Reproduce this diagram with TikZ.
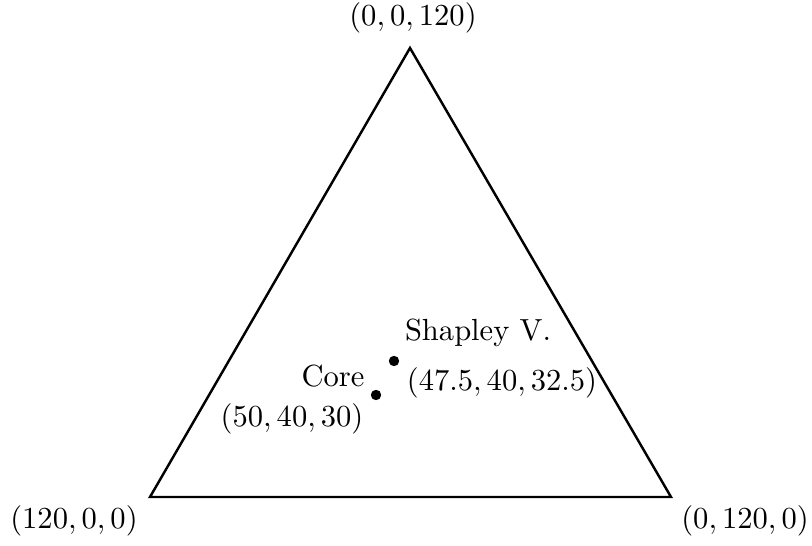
\documentclass[tikz,border=0pt]{standalone}
\usepackage{tikz}
\usetikzlibrary{positioning}

\begin{document}
\begin{tikzpicture}[
    x=0.0115cm, y=-0.0115cm,
    edge/.style={thick},
    dot/.style={circle, fill=black, inner sep=0pt, minimum size=3.4pt},
    lbl/.style={font=\normalsize, inner sep=1pt}
]
\useasboundingbox (0,0) rectangle (812,546);

% vertices of the simplex
\coordinate (p1) at (150,497);
\coordinate (p2) at (671,497);
\coordinate (p3) at (410,48);

\draw[edge] (p1) -- (p2) -- (p3) -- cycle;

\node[lbl] (l1) at (74,521) {$(120,0,0)$};
\node[lbl] (l2) at (745,521) {$(0,120,0)$};
\node[lbl] (l3) at (413,18) {$(0,0,120)$};

% core and Shapley value
\node[dot] (core) at (376,395) {};
\node[dot] (shap) at (394,361) {};

\node[lbl] (corename) at (333,376) {Core};
\node[lbl] (coreval) at (292,419) {$(50,40,30)$};
\node[lbl] (shapname) at (478,333) {Shapley V.};
\node[lbl] (shapval) at (502,383) {$(47.5,40,32.5)$};

\end{tikzpicture}
\end{document}
